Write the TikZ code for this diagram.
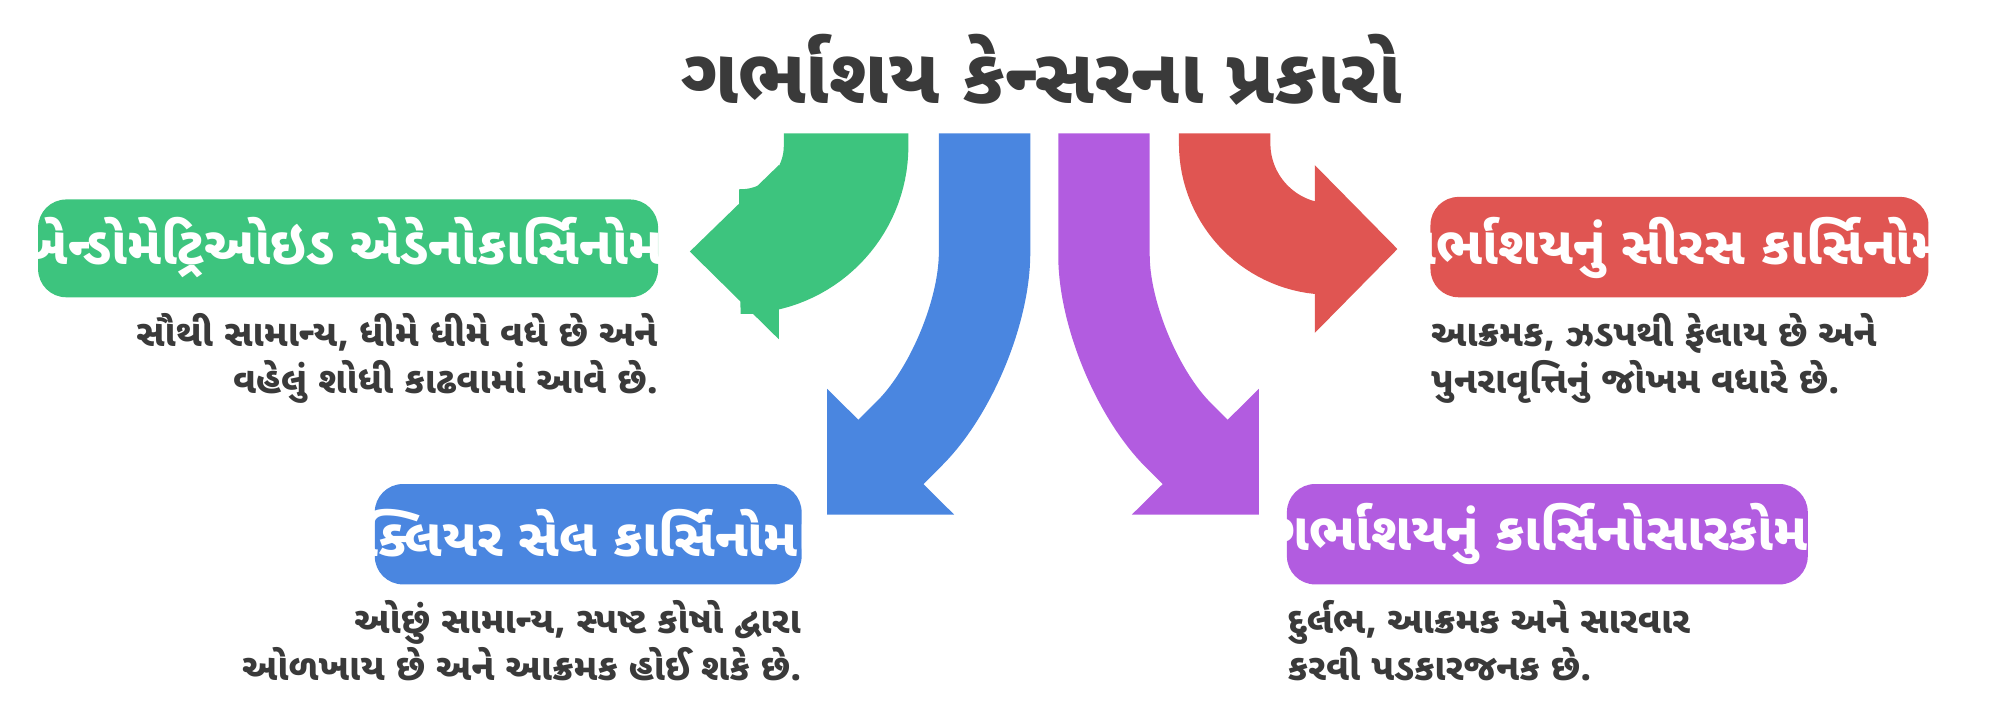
\documentclass[tikz,border=0pt]{standalone}
\usepackage{fontspec}
\newfontfamily\guj[Script=Gujarati]{Noto Sans Gujarati UI}
\usetikzlibrary{positioning}
\definecolor{cgreen}{HTML}{3DC47E}
\definecolor{cblue}{HTML}{4A86E0}
\definecolor{cpurple}{HTML}{B25CE0}
\definecolor{cred}{HTML}{E05552}
\definecolor{ctext}{HTML}{3A3A3A}
\begin{document}
\begin{tikzpicture}[x=0.0127cm, y=-0.0127cm,
    band/.style={line width=0.914cm, rounded corners=30},
    typebox/.style={rounded corners=8pt, text=white, font=\guj\bfseries\fontsize{15}{18}\selectfont, inner sep=0pt},
    desc/.style={text=ctext, font=\guj\bfseries\fontsize{10.5}{13.5}\selectfont, inner sep=0pt}]
    \useasboundingbox (0,0) rectangle (1568,567);
    % title
    \node[text=ctext, font=\guj\bfseries\fontsize{22}{26}\selectfont] (title) at (820,55) {ગર્ભાશય કેન્સરના પ્રકારો};

    % arrows
    \draw[cgreen, line width=1.245cm, rounded corners=30] (666,105) -- (666,198) -- (612,198);
    \fill[cgreen] (613,130) -- (613,267) -- (543,198) -- cycle;
    \draw[cblue, band] (775,105) -- (775,282) -- (701,356);
    \fill[cblue] (651,306) -- (651,405) -- (751,405) -- cycle;
    \draw[cpurple, band] (869,105) -- (869,284) -- (941,356);
    \fill[cpurple] (991,306) -- (991,405) -- (891,405) -- cycle;
    \draw[cred, band] (964,105) -- (964,196) -- (1036,196);
    \fill[cred] (1035,130) -- (1035,262) -- (1100,196) -- cycle;

    % boxes
    \fill[cgreen, rounded corners=8pt] (30,157) rectangle (518,234);
    \node[typebox] (endo) at (274,195) {એન્ડોમેટ્રિઓઇડ એડેનોકાર્સિનોમા};
    \fill[cred, rounded corners=8pt] (1126,155) rectangle (1518,234);
    \node[typebox] (serous) at (1322,195) {ગર્ભાશયનું સીરસ કાર્સિનોમા};
    \fill[cblue, rounded corners=8pt] (295,381) rectangle (631,460);
    \node[typebox] (clear) at (463,420) {ક્લિયર સેલ કાર્સિનોમા};
    \fill[cpurple, rounded corners=8pt] (1013,381) rectangle (1423,460);
    \node[typebox] (sarc) at (1218,420) {ગર્ભાશયનું કાર્સિનોસારકોમા};

    % descriptions
    \node[desc, anchor=north east, align=right] (endod) at (518,246) {સૌથી સામાન્ય, ધીમે ધીમે વધે છે અને\\વહેલું શોધી કાઢવામાં આવે છે.};
    \node[desc, anchor=north west, align=left] (serousd) at (1126,246) {આક્રમક, ઝડપથી ફેલાય છે અને\\પુનરાવૃત્તિનું જોખમ વધારે છે.};
    \node[desc, anchor=north east, align=right] (cleard) at (631,472) {ઓછું સામાન્ય, સ્પષ્ટ કોષો દ્વારા\\ઓળખાય છે અને આક્રમક હોઈ શકે છે.};
    \node[desc, anchor=north west, align=left] (sarcd) at (1013,472) {દુર્લભ, આક્રમક અને સારવાર\\કરવી પડકારજનક છે.};
\end{tikzpicture}
\end{document}
